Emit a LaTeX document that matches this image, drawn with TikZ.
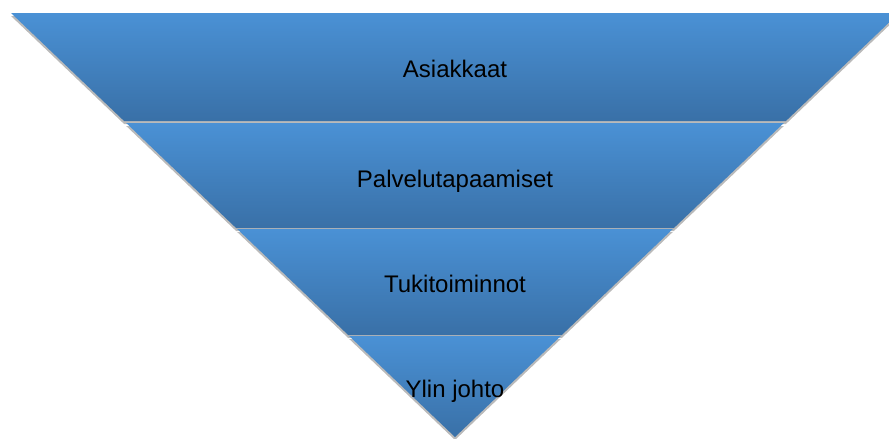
\documentclass[tikz,border=0pt]{standalone}
\usepackage{fontspec}
\setmainfont{Liberation Sans}
\usetikzlibrary{shadows}
\definecolor{layertop}{RGB}{74,145,213}
\definecolor{layerbot}{RGB}{57,112,167}
\tikzset{
  layer/.style={top color=layertop, bottom color=layerbot,
    drop shadow={shadow xshift=0pt, shadow yshift=-3pt, opacity=0.45, fill=black!60}},
  layertext/.style={anchor=base, font=\fontsize{24}{28}\selectfont, text=black}
}
\begin{document}
\begin{tikzpicture}[x=1pt, y=-1pt]

    \clip (0,0) rectangle (889,439);

    % pyramid layers
    \path [layer] (11,13) -- (899,13) -- (785.9,121) -- (124.1,121) -- cycle;
    \path [layer] (126.2,123) -- (783.8,123) -- (673.9,228) -- (236.1,228) -- cycle;
    \path [layer] (237.2,229) -- (672.8,229) -- (561.8,335) -- (348.2,335) -- cycle;
    \path [layer] (349.2,336) -- (560.8,336) -- (455,437) -- cycle;

    % labels
    \node (asiakkaat) [layertext] at (455,77) {Asiakkaat};
    \node (palvelu) [layertext] at (455,187) {Palvelutapaamiset};
    \node (tuki) [layertext] at (455,292) {Tukitoiminnot};
    \node (johto) [layertext] at (455,397) {Ylin johto};

\end{tikzpicture}
\end{document}
